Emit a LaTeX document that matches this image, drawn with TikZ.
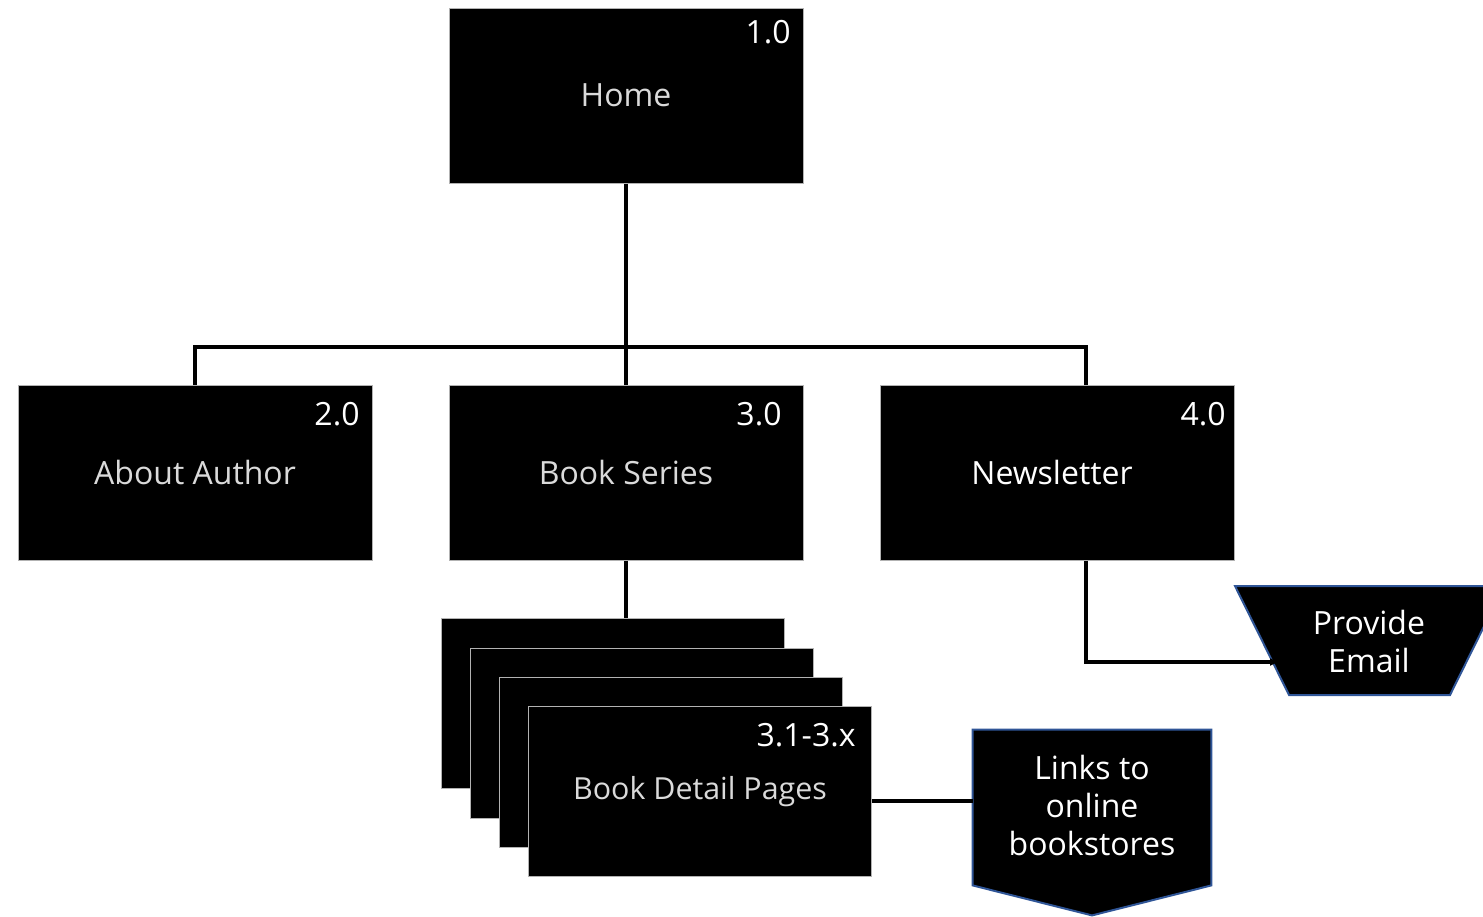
\documentclass[tikz,border=0pt]{standalone}
\usepackage{fontspec}
\setmainfont{Open Sans}
\usetikzlibrary{calc,arrows.meta}
\definecolor{txtgray}{RGB}{218,218,218}
\definecolor{edgeblue}{RGB}{47,85,151}
\tikzset{
  pagebox/.style={rectangle, fill=black, draw=gray!60, line width=0.5pt, minimum width=177pt, minimum height=87.5pt, inner sep=0pt, font=\fontsize{16}{19}\selectfont},
  stackpage/.style={rectangle, fill=black, draw=gray!60, line width=0.5pt, minimum width=171.5pt, minimum height=85pt, inner sep=0pt, font=\fontsize{16}{19}\selectfont},
  numlabel/.style={anchor=east, text=white, inner sep=0pt, font=\fontsize{16}{19}\selectfont},
  conn/.style={line width=2pt, draw=black},
  bluefig/.style={fill=black, draw=edgeblue, line width=1pt},
  figtext/.style={text=white, align=center, inner sep=0pt, font=\fontsize{16}{19}\selectfont}
}
\begin{document}
\begin{tikzpicture}[x=0.5pt,y=-0.5pt]
\useasboundingbox (0,0) rectangle (1483,916);
\clip (0,0) rectangle (1483,916);
% main boxes
\node[pagebox, text=txtgray] (home) at (626,95.5) {Home};
\node[pagebox, text=txtgray] (about) at (195,472.5) {About Author};
\node[pagebox, text=txtgray] (book) at (626,472.5) {Book Series};
\node[pagebox] (news) at (1057,472.5) {};
\node[figtext] (newstxt) at (1052,472.5) {Newsletter};
\node[numlabel] (n1) at (791,32) {1.0};
\node[numlabel] (n2) at (360,414) {2.0};
\node[numlabel] (n3) at (782,414) {3.0};
\node[numlabel] (n4) at (1226,414) {4.0};
% connectors of the tree
\coordinate (bar) at (626,347);
\draw[conn] (home.south) -- (book.north);
\draw[conn] (about.north) |- (bar) -| ($(news.north)+(29,0)$);
% stack of detail pages
\node[stackpage] (p1) at (613,703) {};
\node[stackpage] (p2) at (641.5,733) {};
\node[stackpage] (p3) at (670.5,762) {};
\node[stackpage] (p4) at (699.5,791) {};
\node[figtext, text=txtgray, font=\fontsize{15.2}{19}\selectfont] (p4txt) at (700,792) {Book Detail Pages};
\node[numlabel] (n5) at (856,735) {3.1-3.x};
\draw[conn] (book.south) -- (book.south |- p1.north);
% links to online bookstores
\node[minimum width=119pt, minimum height=77.5pt, inner sep=0pt] (links) at (1092,807.5) {};
\draw[bluefig] (links.north west) -- (links.north east) -- (links.south east) -- ($(links.south)+(0,30)$) -- (links.south west) -- cycle;
\node[figtext] (linkstxt) at (1092,805) {Links to\\online\\bookstores};
\coordinate (p4out) at ($(p4.east)+(0,10)$);
\draw[conn] (p4out) -- (p4out -| links.west);
% provide email
\draw[bluefig] (1235,586) -- (1504,586) -- (1450,695) -- (1289,695) -- cycle;
\node[figtext] (email) at (1369,641) {Provide\\Email};
\coordinate (emailin) at (1280,662);
\draw[conn, -{Latex[length=5pt,width=4pt]}] ($(news.south)+(29,0)$) |- (emailin);
\end{tikzpicture}
\end{document}
